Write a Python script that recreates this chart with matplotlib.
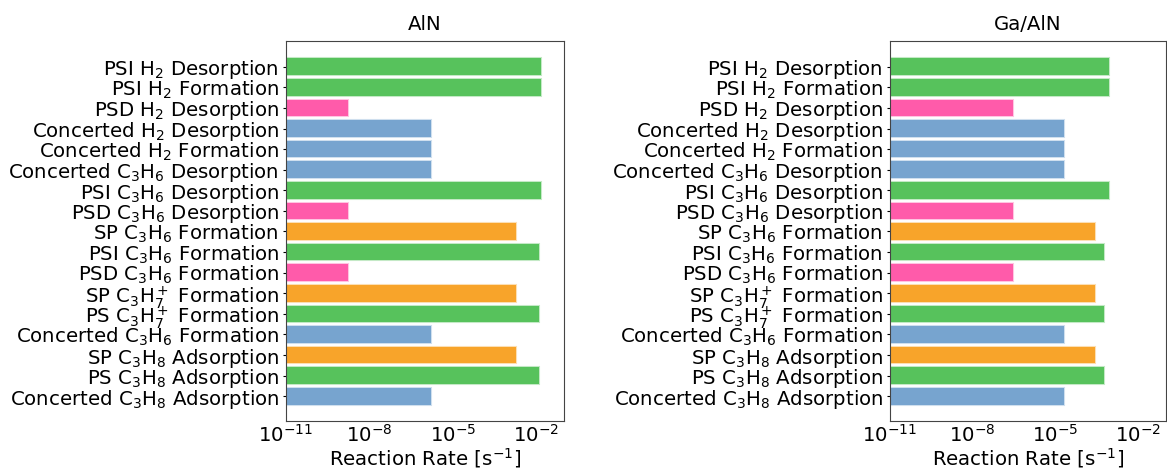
import matplotlib
matplotlib.use("Agg")
import matplotlib.pyplot as plt
from matplotlib.colors import to_rgba

# reaction steps, listed from the bottom of the chart upwards
steps = [
    "Concerted C$_3$H$_8$ Adsorption",
    "PS C$_3$H$_8$ Adsorption",
    "SP C$_3$H$_8$ Adsorption",
    "Concerted C$_3$H$_6$ Formation",
    "PS C$_3$H$_7^+$ Formation",
    "SP C$_3$H$_7^+$ Formation",
    "PSD C$_3$H$_6$ Formation",
    "PSI C$_3$H$_6$ Formation",
    "SP C$_3$H$_6$ Formation",
    "PSD C$_3$H$_6$ Desorption",
    "PSI C$_3$H$_6$ Desorption",
    "Concerted C$_3$H$_6$ Desorption",
    "Concerted H$_2$ Formation",
    "Concerted H$_2$ Desorption",
    "PSD H$_2$ Desorption",
    "PSI H$_2$ Formation",
    "PSI H$_2$ Desorption",
]
mechanism = ["Concerted", "PS", "SP", "Concerted", "PS", "SP", "PSD", "PSI", "SP",
             "PSD", "PSI", "Concerted", "Concerted", "Concerted", "PSD", "PSI", "PSI"]

# rates in s^-1
rate_aln = [1.7e-6, 1.3e-2, 1.8e-3, 1.7e-6, 1.3e-2, 1.8e-3, 1.7e-9, 1.3e-2, 1.8e-3,
            1.7e-9, 1.45e-2, 1.7e-6, 1.7e-6, 1.7e-6, 1.7e-9, 1.45e-2, 1.45e-2]
rate_ga_aln = [2.1e-5, 5.8e-4, 2.7e-4, 2.1e-5, 5.8e-4, 2.7e-4, 2.9e-7, 5.8e-4, 2.7e-4,
               2.9e-7, 8.7e-4, 2.1e-5, 2.1e-5, 2.1e-5, 2.9e-7, 8.7e-4, 8.7e-4]

mech_colors = {"PSI": "#57c25c", "PS": "#57c25c", "PSD": "#ff5baa",
               "Concerted": "#77a4cf", "SP": "#f8a42a"}

fs = 14.2
fig = plt.figure(figsize=(11.67, 4.71), dpi=100)
ax1 = fig.add_axes([0.2451, 0.1062, 0.2382, 0.8068])
ax2 = fig.add_axes([0.7626, 0.1062, 0.2365, 0.8068])

for ax, rates, title in [(ax1, rate_aln, "AlN"), (ax2, rate_ga_aln, "Ga/AlN")]:
    cols = [mech_colors[m] for m in mechanism]
    edges = [to_rgba(c, 0.35) for c in cols]
    ax.barh(range(len(steps)), rates, height=0.8, left=1e-12, color=cols,
            edgecolor=edges, linewidth=1.5)
    ax.set_xscale("log")
    ax.set_xlim(1e-11, 1e-1)
    ax.set_ylim(-1.2, len(steps) - 1 + 1.25)
    ax.set_xticks([1e-11, 1e-8, 1e-5, 1e-2])
    ax.minorticks_off()
    ax.set_yticks(range(len(steps)))
    ax.set_yticklabels(steps, fontsize=fs)
    ax.tick_params(axis="x", labelsize=fs, length=0, pad=2)
    ax.tick_params(axis="y", length=2, pad=3)
    ax.set_xlabel("Reaction Rate [s$^{\\mathregular{-1}}$]", fontsize=fs, labelpad=0)
    ax.set_title(title, fontsize=fs, pad=8)
    for s in ax.spines.values():
        s.set_color("#444444")

fig.savefig("out.png", dpi=100)
